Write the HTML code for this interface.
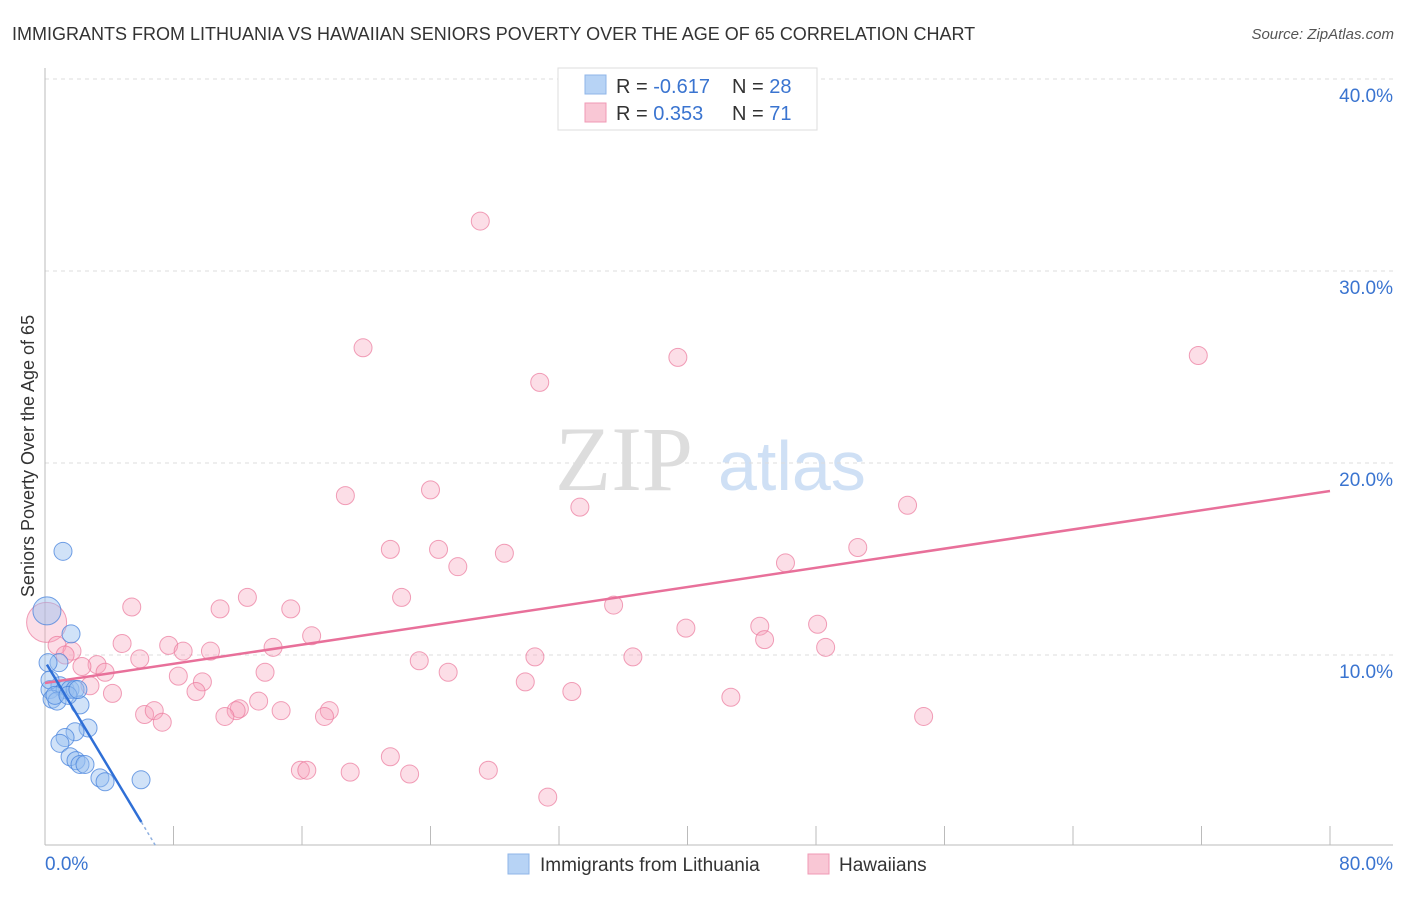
<!DOCTYPE html>
<html><head><meta charset="utf-8"><style>
body{margin:0;background:#fff;font-family:"Liberation Sans",sans-serif}
</style></head><body>
<svg id="chart" width="1406" height="892" xmlns="http://www.w3.org/2000/svg" style="font-family:'Liberation Sans',sans-serif">
<text x="12" y="40" font-size="18" fill="#333">IMMIGRANTS FROM LITHUANIA VS HAWAIIAN SENIORS POVERTY OVER THE AGE OF 65 CORRELATION CHART</text>
<text x="1394" y="39" font-size="15" fill="#555" text-anchor="end" font-style="italic">Source: ZipAtlas.com</text>
<text x="555" y="490" font-size="92" fill="#ddd" font-family="Liberation Serif,serif">ZIP</text>
<text x="718" y="490" font-size="70" fill="#cfe0f5">atlas</text>
<text transform="translate(34,456) rotate(-90)" font-size="18" fill="#333" text-anchor="middle">Seniors Poverty Over the Age of 65</text>
<g id="grid"></g><g id="axes"></g><g id="marks"></g>
<g>
<rect x="558" y="68" width="259" height="62" fill="#fff" stroke="#ddd"/>
<rect x="585" y="75" width="21" height="19" fill="#b7d3f5" stroke="#8fb6e8"/>
<rect x="585" y="103" width="21" height="19" fill="#f9c7d5" stroke="#f09ab5"/>
<text x="616" y="93" font-size="20" fill="#333">R = <tspan fill="#3a74d0">-0.617</tspan></text>
<text x="732" y="93" font-size="20" fill="#333">N = <tspan fill="#3a74d0">28</tspan></text>
<text x="616" y="120" font-size="20" fill="#333">R = <tspan fill="#3a74d0"> 0.353</tspan></text>
<text x="732" y="120" font-size="20" fill="#333">N = <tspan fill="#3a74d0"> 71</tspan></text>
</g>
<g>
<rect x="508" y="854" width="21" height="20" fill="#b7d3f5" stroke="#8fb6e8"/>
<text x="540" y="871" font-size="19" fill="#333">Immigrants from Lithuania</text>
<rect x="808" y="854" width="21" height="20" fill="#f9c7d5" stroke="#f09ab5"/>
<text x="839" y="871" font-size="19" fill="#333">Hawaiians</text>
</g>
</svg>
<script>
const yTicks=[10,20,30,40];
const yTickLabels=["10.0%","20.0%","30.0%","40.0%"];
const xTicks=[0,8,16,24,32,40,48,56,64,72,80];
const blueX=[1.12,0.12,1.62,0.87,0.19,0.31,0.93,1.25,1.56,1.87,0.44,0.75,2.18,2.68,1.87,1.25,0.93,1.56,1.93,2.18,2.49,3.42,3.74,5.98,0.31,0.62,1.43,2.05];
const blueY=[15.4,12.3,11.1,9.6,9.6,8.2,8.4,8.2,8.2,8.2,7.7,7.6,7.4,6.2,6.0,5.7,5.4,4.7,4.5,4.3,4.3,3.6,3.4,3.5,8.7,7.9,7.9,8.2];
const pinkX=[27.1,19.8,39.4,71.8,30.8,18.7,24.0,33.3,53.7,21.5,24.5,28.6,25.7,46.1,50.6,0.1,5.4,12.6,10.9,15.3,22.2,35.4,39.9,44.5,48.1,44.8,48.6,16.6,4.8,7.7,8.6,10.3,14.2,0.75,1.68,1.25,3.24,2.3,3.74,5.9,13.7,23.3,30.5,36.6,25.1,8.3,9.8,2.8,4.2,9.4,29.9,32.8,42.7,13.3,12.1,11.9,14.7,17.7,17.4,6.2,6.8,7.3,11.2,54.7,21.5,15.9,16.3,19.0,22.7,27.6,31.3];
const pinkY=[32.6,26.0,25.5,25.6,24.2,18.3,18.6,17.7,17.8,15.5,15.5,15.3,14.6,14.8,15.6,11.7,12.5,13.0,12.4,12.4,13.0,12.6,11.4,11.5,11.6,10.8,10.4,11.0,10.6,10.5,10.2,10.2,10.4,10.5,10.2,10.0,9.5,9.4,9.1,9.8,9.1,9.7,9.9,9.9,9.1,8.9,8.6,8.4,8.0,8.1,8.6,8.1,7.8,7.6,7.2,7.1,7.1,7.1,6.8,6.9,7.1,6.5,6.8,6.8,4.7,4.0,4.0,3.9,3.8,4.0,2.6];
const pinkTrend=[8.54,18.54];
const blueTrend=[9.5,1.3];
const blueTrendX=[0.12,6.0,6.9];
const NS="http://www.w3.org/2000/svg";
const X=v=>45+v*1285/80, Y=v=>847-v*19.2;
function mk(p,t,a){const e=document.createElementNS(NS,t);for(const k in a)e.setAttribute(k,a[k]);p.appendChild(e);return e;}
const grid=document.getElementById('grid'),axes=document.getElementById('axes'),marks=document.getElementById('marks');
yTicks.forEach((t,i)=>{
 const l=mk(grid,'line',{x1:45,x2:1393,y1:Y(t),y2:Y(t),stroke:'#ddd','stroke-dasharray':'4,4'});
 
 
 const tx=mk(axes,'text',{x:1393,y:Y(t)+23,'font-size':19,fill:'#3a74d0','text-anchor':'end'});
 tx.textContent=yTickLabels[i];
 
 
});
const la=mk(axes,'line',{x1:45,x2:45,y1:68,y2:845,stroke:'#bbb'});


const ba=mk(axes,'line',{x1:45,x2:1393,y1:845,y2:845,stroke:'#bbb'});


xTicks.forEach(t=>{
 const l=mk(axes,'line',{x1:X(t),x2:X(t),y1:826,y2:845,stroke:'#bbb'});
 
 
});
[[0,'0.0%','start',45],[80,'80.0%','end',1393]].forEach(d=>{
 const tx=mk(axes,'text',{x:d[3],y:870,'font-size':19,fill:'#3a74d0','text-anchor':d[2]});
 tx.textContent=d[1];
 
 
});
pinkX.forEach((x,i)=>{
 const c=mk(marks,'circle',{cx:X(x),cy:Y(pinkY[i]),r:i==15?20:9,fill:'rgba(245,160,185,0.35)',stroke:'rgba(235,120,155,0.7)','stroke-width':1});
 
 
});
blueX.forEach((x,i)=>{
 const c=mk(marks,'circle',{cx:X(x),cy:Y(blueY[i]),r:i==1?14:9,fill:'rgba(150,190,240,0.45)',stroke:'rgba(70,130,220,0.75)','stroke-width':1});
 
 
});
const pt=mk(marks,'line',{x1:X(0),y1:Y(pinkTrend[0]),x2:X(80),y2:Y(pinkTrend[1]),stroke:'#e8709a','stroke-width':2.5});


const slope=(blueTrend[1]-blueTrend[0])/(blueTrendX[1]-blueTrendX[0]);
const by=x=>blueTrend[0]+slope*(x-blueTrendX[0]);
const bt=mk(marks,'line',{x1:X(blueTrendX[0]),y1:Y(by(blueTrendX[0])),x2:X(blueTrendX[1]),y2:Y(by(blueTrendX[1])),stroke:'#2f6fd6','stroke-width':2.5});


const bd=mk(marks,'line',{x1:X(blueTrendX[1]),y1:Y(by(blueTrendX[1])),x2:X(blueTrendX[2]),y2:Y(by(blueTrendX[2])),stroke:'#8fb0e0','stroke-width':1.5,'stroke-dasharray':'3,3'});


</script>
</body></html>
